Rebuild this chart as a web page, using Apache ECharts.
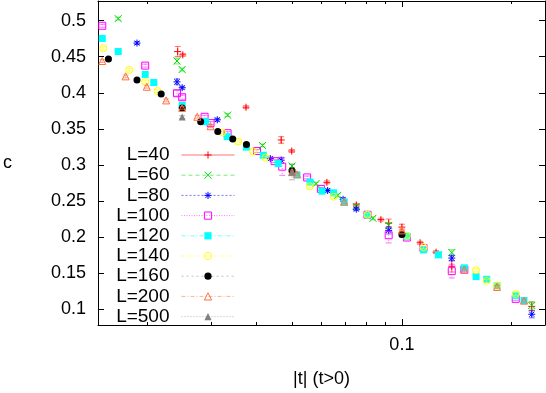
<!DOCTYPE html>
<html>
<head>
<meta charset="utf-8">
<script src="https://cdn.jsdelivr.net/npm/echarts@6/dist/echarts.min.js"></script>
<style>html,body{margin:0;padding:0;background:#fff}#c{width:546px;height:393px}</style>
</head>
<body>
<div id="c"></div>
<script>
// ---- data ----
const seriesNames = ['L=40','L=60','L=80','L=100','L=120','L=140','L=160','L=200','L=500'];

const t40 = [0.0243,0.0251,0.0374,0.0467,0.0499,0.0623,0.0750,0.0876,0.0920,0.1000,0.1122,0.1241,0.1370,0.2269];
const c40 = [0.457,0.4525,0.380,0.3346,0.3193,0.2759,0.2447,0.2243,0.2193,0.2139,0.1922,0.1792,0.1597,0.1041];
const e40 = [0.007,0.002,0.002,0.0045,0.002,0.002,0.002,0.002,0.0057,0.004,0.002,0.002,0.008,0.006];

const t60 = [0.0167,0.0242,0.0250,0.0333,0.0415,0.0500,0.0582,0.0667,0.0750,0.0833,0.0920,0.1259,0.1370,0.2269];
const c60 = [0.5027,0.444,0.4322,0.369,0.327,0.2985,0.2741,0.2578,0.2425,0.2261,0.2162,0.1755,0.1786,0.1054];
const e60 = [0.002,0.004,0.002,0.002,0.002,0.003,0.002,0.002,0.002,0.002,0.004,0.002,0.004,0.005];

const t80 = [0.0188,0.0242,0.0250,0.0312,0.0436,0.0467,0.0626,0.0690,0.0750,0.0920,0.1370,0.2269];
const c80 = [0.4688,0.4151,0.407,0.3626,0.3088,0.3066,0.2646,0.2524,0.2388,0.2094,0.171,0.0932];
const e80 = [0.002,0.004,0.002,0.002,0.002,0.004,0.002,0.002,0.002,0.005,0.004,0.005];

const t100 = [0.0151,0.0198,0.0242,0.0250,0.0288,0.0299,0.0333,0.0401,0.0448,0.0470,0.0550,0.0600,0.0805,0.0920,0.1032,0.1146,0.1370,0.1483,0.2051];
const c100 = [0.4928,0.4376,0.3993,0.3938,0.3667,0.358,0.344,0.3193,0.3053,0.2976,0.2827,0.2668,0.231,0.2026,0.1995,0.185,0.1529,0.155,0.1145];
const e100 = [0.002,0.002,0.004,0.003,0.002,0.002,0.002,0.002,0.002,0.012,0.002,0.002,0.002,0.0106,0.002,0.002,0.0095,0.002,0.002];

const t120 = [0.0151,0.0167,0.0198,0.0209,0.0250,0.0290,0.0332,0.0375,0.0417,0.0458,0.0516,0.0560,0.0604,0.0650,0.0695,0.0805,0.1032,0.1146,0.1259,0.1483,0.1597,0.1708,0.1823,0.2051,0.2161];
const c120 = [0.4752,0.4571,0.4254,0.4142,0.3826,0.36,0.3392,0.3247,0.3134,0.302,0.2863,0.2763,0.2637,0.2614,0.2487,0.2307,0.2013,0.1823,0.1755,0.1575,0.1453,0.1416,0.1326,0.1193,0.1122];
const e120 = [0.002,0.002,0.002,0.002,0.002,0.002,0.002,0.002,0.002,0.002,0.002,0.002,0.002,0.002,0.002,0.002,0.002,0.002,0.002,0.002,0.002,0.002,0.002,0.002,0.002];

const t140 = [0.0152,0.0179,0.0198,0.0214,0.0322,0.0356,0.0391,0.0423,0.0559,0.0650,0.0805,0.1032,0.1146,0.1597,0.1708,0.1823,0.2051];
const c140 = [0.4616,0.4318,0.4151,0.4024,0.345,0.3324,0.3188,0.3102,0.2704,0.2559,0.231,0.202,0.186,0.1542,0.1394,0.133,0.1213];
const e140 = [0.002,0.002,0.002,0.002,0.002,0.002,0.002,0.002,0.002,0.002,0.002,0.002,0.002,0.002,0.002,0.002,0.002];

const t160 = [0.0157,0.0188,0.0219,0.0250,0.0281,0.0313,0.0344,0.0375,0.0500,0.1000];
const c160 = [0.4467,0.4178,0.3983,0.379,0.36,0.3464,0.3359,0.3283,0.2917,0.2036];
const e160 = [0.002,0.002,0.002,0.002,0.002,0.002,0.002,0.002,0.004,0.003];

const t200 = [0.0151,0.0175,0.0200,0.0226,0.0250,0.0275,0.0299,0.0500,0.0516,0.0695,0.1000,0.1483,0.1823,0.2161];
const c200 = [0.444,0.4227,0.4083,0.3894,0.379,0.3667,0.3536,0.29,0.287,0.249,0.2094,0.155,0.131,0.112];
const e200 = [0.002,0.002,0.002,0.002,0.002,0.002,0.002,0.003,0.002,0.002,0.002,0.002,0.002,0.002];

const t500 = [0.0250,0.0500];
const c500 = [0.3663,0.290];
const e500 = [0.002,0.0106];

const xMajorTicks = [0.1];
const xMinorTicks = [0.02,0.03,0.04,0.05,0.06,0.07,0.08,0.09,0.2];
const yTicks = [0.1,0.15,0.2,0.25,0.3,0.35,0.4,0.45,0.5];

// ---- styles ----
const FONT = 'Liberation Sans';
const S = 7;
const styles = [
  {color:'#ff0000', sym:'path://M0,3.5H7M3.5,0V7', fill:false, dash:'solid'},
  {color:'#00dd00', sym:'path://M0,0L7,7M7,0L0,7', fill:false, dash:[4,3]},
  {color:'#0000ff', sym:'path://M0,3.5H7M3.5,0V7M1,1L6,6M6,1L1,6', fill:false, dash:[2,2]},
  {color:'#ff00ff', sym:'path://M0,0H7V7H0Z', fill:false, dash:[1,1.5]},
  {color:'#00ffff', sym:'rect', fill:true, dash:[4,2,1,2]},
  {color:'#ffff00', sym:'path://M3.5,0A3.5,3.5,0,1,1,3.49,0Z', fill:false, dash:[3,2,1,2]},
  {color:'#000000', sym:'circle', fill:true, dash:[2,3], legendLine:'#888'},
  {color:'#ff7040', sym:'path://M3.5,0L7,7H0Z', fill:false, dash:[4,2,1,2]},
  {color:'#808080', sym:'triangle', fill:true, dash:[1,2]}
];
const ts = [t40,t60,t80,t100,t120,t140,t160,t200,t500];
const cs = [c40,c60,c80,c100,c120,c140,c160,c200,c500];
const es = [e40,e60,e80,e100,e120,e140,e160,e200,e500];

const series = [];
seriesNames.forEach((name, i) => {
  const st = styles[i];
  const pts = ts[i].map((t, k) => [t, cs[i][k]]);
  const errs = ts[i].map((t, k) => [t, cs[i][k], es[i][k]]);
  series.push({
    type: 'custom', name: name + ' err', xAxisIndex: 0, yAxisIndex: 0,
    data: errs, z: 2 + i * 2, silent: true,
    encode: {x: 0, y: 1},
    renderItem: (params, api) => {
      const x = api.value(0), y = api.value(1), e = api.value(2);
      const top = api.coord([x, y + e]);
      const bot = api.coord([x, y - e]);
      const cap = 3;
      const stl = {stroke: st.color, lineWidth: 1, opacity: 0.55, lineDash: st.dash === 'solid' ? null : st.dash};
      return {type: 'group', children: [
        {type: 'line', shape: {x1: top[0], y1: top[1], x2: bot[0], y2: bot[1]}, style: stl},
        {type: 'line', shape: {x1: top[0]-cap, y1: top[1], x2: top[0]+cap, y2: top[1]}, style: {stroke: st.color, lineWidth: 1, opacity: 0.55}},
        {type: 'line', shape: {x1: bot[0]-cap, y1: bot[1], x2: bot[0]+cap, y2: bot[1]}, style: {stroke: st.color, lineWidth: 1, opacity: 0.55}}
      ]};
    }
  });
  series.push({
    type: 'line', name: name, xAxisIndex: 0, yAxisIndex: 0,
    data: pts, z: 3 + i * 2,
    symbol: st.sym, symbolSize: S, showSymbol: true, showAllSymbol: true,
    lineStyle: {width: 0, opacity: 0},
    itemStyle: st.fill ? {color: st.color} : {color: 'rgba(0,0,0,0)', borderColor: st.color, borderWidth: 1},
    emphasis: {disabled: true}
  });
});

const legendData = seriesNames.map((name, i) => ({
  name: name,
  lineStyle: {color: styles[i].legendLine || styles[i].color, width: 1, type: styles[i].dash, opacity: 0.55},
  itemStyle: styles[i].fill ? {color: styles[i].color, borderWidth: 0} : {color: 'rgba(0,0,0,0)', borderColor: styles[i].color, borderWidth: 1}
}));

const xMin = 0.0147, xMax = 0.2467, yMin = 0.0783, yMax = 0.5271;
const lbl = {fontFamily: FONT, fontSize: 18, color: '#000'};

function xAx(pos, ticks, len, showLine, showLabel) {
  return {
    type: 'log', logBase: 10, position: pos, min: xMin, max: xMax,
    axisLine: {show: showLine, lineStyle: {color: '#000', width: 1}},
    axisTick: {show: true, inside: true, length: len, customValues: ticks, lineStyle: {color: '#000', width: 1}},
    axisLabel: showLabel ? Object.assign({customValues: xMajorTicks, margin: 11, formatter: v => String(+(+v).toPrecision(3))}, lbl) : {show: false},
    splitLine: {show: false}, minorTick: {show: false}
  };
}
function yAx(pos, showLabel) {
  return {
    type: 'value', position: pos, min: yMin, max: yMax,
    axisLine: {show: true, lineStyle: {color: '#000', width: 1}},
    axisTick: {show: true, inside: true, length: 6, customValues: yTicks, lineStyle: {color: '#000', width: 1}},
    axisLabel: showLabel ? Object.assign({customValues: yTicks, margin: 12, formatter: v => String(+(+v).toFixed(2))}, lbl) : {show: false},
    splitLine: {show: false}
  };
}

const xAxes = [
  Object.assign(xAx('bottom', xMajorTicks, 6, true, true), {name: '|t| (t>0)', nameLocation: 'middle', nameGap: 45, nameTextStyle: lbl}),
  xAx('bottom', xMinorTicks, 3, false, false),
  xAx('top', xMajorTicks, 6, true, false),
  xAx('top', xMinorTicks, 3, false, false)
];
const yAxes = [
  Object.assign(yAx('left', true), {name: 'c', nameLocation: 'middle', nameGap: 86, nameRotate: 0, nameTextStyle: lbl}),
  yAx('right', false)
];

const chart = echarts.init(document.getElementById('c'), null, {renderer: 'canvas'});
chart.setOption({
  animation: false,
  backgroundColor: '#fff',
  grid: {left: 97, right: 1, top: 1, bottom: 61, containLabel: false},
  xAxis: xAxes,
  yAxis: yAxes,
  legend: {
    orient: 'vertical', align: 'right', right: 311, top: 145, padding: 0,
    itemWidth: 53, itemHeight: 9, itemGap: 0.2, selectedMode: false,
    textStyle: {fontFamily: FONT, fontSize: 19, color: '#000', lineHeight: 20, padding: [0, 7, 0, 0]},
    data: legendData
  },
  series: series
});
</script>
</body>
</html>
